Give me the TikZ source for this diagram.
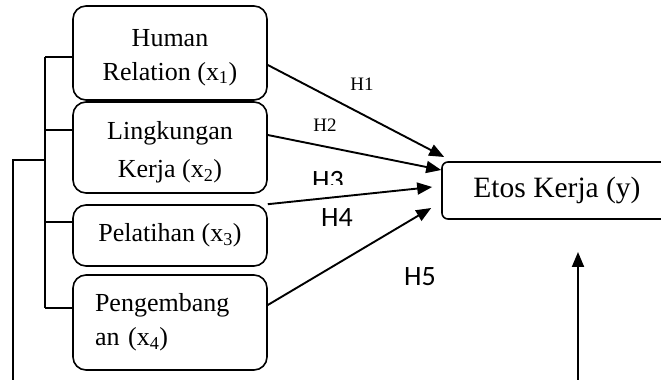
\documentclass[tikz,border=0pt]{standalone}
\usepackage{fontspec}
\setmainfont{Liberation Serif}
\newfontfamily\hfont{Carlito}
\usetikzlibrary{arrows.meta,positioning}

\begin{document}
\begin{tikzpicture}[x=1pt, y=1pt,
  varbox/.style={draw, line width=1.6pt, rounded corners=13pt, minimum width=194pt, align=center, font=\fontsize{26}{34}\selectfont},
  ybox/.style={draw, line width=1.6pt, rounded corners=6pt, minimum width=230pt, minimum height=57pt, font=\fontsize{29.5}{34}\selectfont},
  brace/.style={line width=1.6pt},
  hyp/.style={line width=1.9pt, -{Triangle[length=15pt, width=12pt]}},
  hlbl/.style={font=\fontsize{19}{22}\selectfont},
  hlbs/.style={font=\hfont\fontsize{28}{32}\selectfont}]

\useasboundingbox (0,0) rectangle (661,380);

% independent variables
\node[varbox, minimum height=94pt] (hr) at (170,327)   {\rule{0pt}{26pt}Human\\Relation (x\textsubscript{1})};
\node[varbox, minimum height=91pt] (lk) at (170,232.5) {\rule{0pt}{28pt}Lingkungan\\[4pt]Kerja (x\textsubscript{2})};
\node[varbox, minimum height=61pt] (pl) at (170,144.5) {Pelatihan (x\textsubscript{3})};
\node[varbox, minimum height=95pt, text width=150pt, align=left, inner xsep=22pt] (pg) at (170,57.5) {Pengembang\\an (x\textsubscript{4})};

% dependent variable
\node[ybox] (ek) at (557,189.5) {Etos Kerja (y)};

% bracket on the left
\coordinate (b1) at (45,323);
\coordinate (b2) at (45,250);
\coordinate (b3) at (45,158);
\coordinate (b4) at (45,72);
\coordinate (bm) at (45,220);
\coordinate (bl) at (13,220);
\coordinate (bb) at (13,0);
\draw[brace] (b1) -- (b4);
\foreach \c/\n in {b1/hr,b2/lk,b3/pl,b4/pg} {\draw[brace] (\c) -- (\c -| \n.west);}
\draw[brace] (bm) -- (bl) -- (bb);

% arrow from below
\coordinate (eb) at (578,0);
\draw[hyp] (eb) -- ++(0,128);

% hypotheses
\draw[hyp] ([yshift=-12pt]hr.east) -- ([shift={(3,33.5)}]ek.west);
\draw[hyp] ([yshift=12.5pt]lk.east) -- ([shift={(0,20.5)}]ek.west);
\draw[hyp] (pl.north east) -- ([shift={(-9,3.5)}]ek.west);
\draw[hyp] ([yshift=17.5pt]pg.east) -- ([shift={(-10,-17.5)}]ek.west);

\node[hlbl] (h1) at (362,296) {H1};
\node[hlbl] (h2) at (325,255) {H2};
\begin{scope}
  \clip (300,195) rectangle (360,220);
  \node[hlbs] (h3) at (328,199) {H3};
\end{scope}
\node[hlbs] (h4) at (337,162) {H4};
\node[hlbs] (h5) at (420,103) {H5};

\end{tikzpicture}
\end{document}
